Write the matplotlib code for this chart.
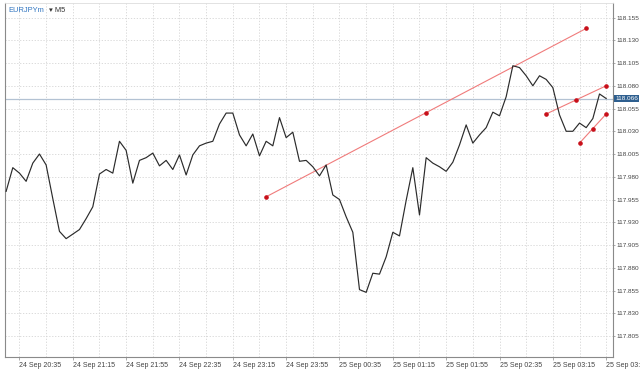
import numpy as np
import pandas as pd
import matplotlib
matplotlib.use('Agg')
import matplotlib.pyplot as plt

plt.rcParams['font.family'] = ['Liberation Sans', 'DejaVu Sans']

# EURJPYm M5 closes, 20:25 .. 03:55
closes = [
    117.964, 117.990, 117.984, 117.975, 117.995, 118.005, 117.993, 117.956,
    117.920, 117.912, 117.917, 117.922, 117.934, 117.947, 117.983, 117.988,
    117.984, 118.019, 118.009, 117.973, 117.998, 118.001, 118.006, 117.992,
    117.998, 117.988, 118.004, 117.982, 118.004, 118.014, 118.017, 118.019,
    118.038, 118.050, 118.050, 118.026, 118.014, 118.027, 118.003, 118.019,
    118.014, 118.045, 118.023, 118.029, 117.997, 117.998, 117.991, 117.981,
    117.993, 117.960, 117.955, 117.936, 117.919, 117.856, 117.853, 117.874,
    117.873, 117.892, 117.919, 117.915, 117.954, 117.990, 117.938, 118.001,
    117.995, 117.991, 117.986, 117.996, 118.015, 118.037, 118.017, 118.026,
    118.034, 118.051, 118.047, 118.068, 118.102, 118.100, 118.091, 118.080,
    118.091, 118.087, 118.078, 118.048, 118.030, 118.030, 118.039, 118.034,
    118.044, 118.071, 118.066,
]
times = pd.date_range('2024-09-24 20:25', periods=len(closes), freq='5min')

# trend lines: (start time, start price, end time, end price)
trend_lines = [
    ('2024-09-24 23:40', 117.958, '2024-09-25 03:40', 118.143),
    ('2024-09-25 03:10', 118.049, '2024-09-25 03:55', 118.080),
    ('2024-09-25 03:35', 118.017, '2024-09-25 03:55', 118.049),
]

tick_labels = ['24 Sep 20:35', '24 Sep 21:15', '24 Sep 21:55', '24 Sep 22:35',
               '24 Sep 23:15', '24 Sep 23:55', '25 Sep 00:35', '25 Sep 01:15',
               '25 Sep 01:55', '25 Sep 02:35', '25 Sep 03:15', '25 Sep 03:55']
price_ticks = [118.155, 118.130, 118.105, 118.080, 118.055, 118.030, 118.005,
               117.980, 117.955, 117.930, 117.905, 117.880, 117.855, 117.830,
               117.805]
last_price = 118.066


def bar_index(t):
    return times.get_loc(pd.Timestamp(t))


fig = plt.figure(figsize=(6.4, 3.7), dpi=100)
ax = fig.add_axes([0.0078, 0.036, 0.9505, 0.955])
x = np.arange(len(closes))

# grid every 4 bars / every price tick
for gx in range(2, len(closes) + 2, 4):
    ax.axvline(gx, color='#d4d4d4', lw=0.6, ls=(0, (1.5, 2)), zorder=0)
for p in price_ticks:
    ax.axhline(p, color='#d4d4d4', lw=0.6, ls=(0, (1.5, 2)), zorder=0)

ax.axhline(last_price, color='#b3c2d3', lw=0.9, zorder=1)
ax.plot(x, closes, color='#2b2b2b', lw=0.85, zorder=3)

for t0, p0, t1, p1 in trend_lines:
    i0, i1 = bar_index(t0), bar_index(t1)
    ax.plot([i0, i1], [p0, p1], color='#f07b7b', lw=0.8, zorder=2)
    ax.plot([i0, (i0 + i1) / 2, i1], [p0, (p0 + p1) / 2, p1], 'o',
            color='#c8101a', ms=2.3, zorder=4)

ax.set_xlim(-0.17, 91.07)
ax.set_ylim(117.7823, 118.1706)

tick_idx = [bar_index(pd.to_datetime('2024 ' + t, format='%Y %d %b %H:%M'))
            for t in tick_labels]
ax.set_xticks(tick_idx)
ax.set_xticklabels(tick_labels, ha='left', fontsize=5.0, color='#444444')
ax.set_yticks(price_ticks)
ax.set_yticklabels(['%.3f' % p for p in price_ticks], fontsize=4.6, color='#444444')
ax.yaxis.tick_right()
ax.tick_params(axis='x', length=2, width=0.5, pad=1.5, color='#888888')
ax.tick_params(axis='y', length=1.5, width=0.5, pad=1.0, color='#888888')

for s in ['left', 'bottom', 'right']:
    ax.spines[s].set_color('#8a8a8a')
    ax.spines[s].set_linewidth(0.8)
ax.spines['top'].set_color('#dddddd')
ax.spines['top'].set_linewidth(0.6)

# last price tag
ax.text(1.003, last_price, '%.3f' % last_price, transform=ax.get_yaxis_transform(),
        fontsize=4.6, color='white', va='center', ha='left',
        bbox=dict(boxstyle='square,pad=0.2', fc='#2e5f8f', ec='none'))

# symbol header
fig.text(0.013, 0.98, 'EURJPYm', color='#2f74c0', fontsize=5.4, va='top')
fig.text(0.077, 0.98, '\u25be M5', color='#333333', fontsize=5.4, va='top')

fig.savefig('out.png', dpi=100)
